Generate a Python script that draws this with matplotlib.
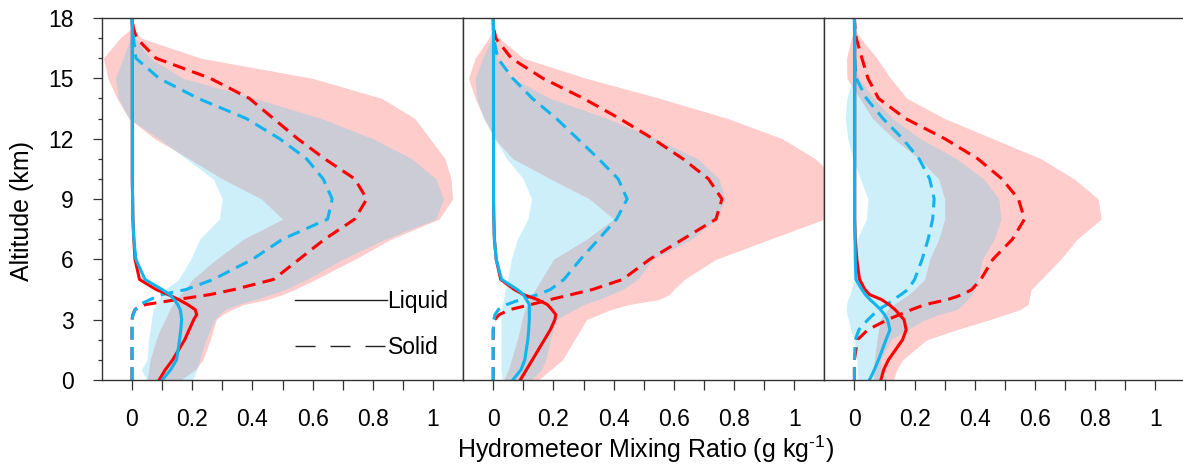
import numpy as np
import matplotlib.pyplot as plt
from matplotlib.lines import Line2D

plt.rcParams['font.family'] = ['Liberation Sans', 'DejaVu Sans']
plt.rcParams['mathtext.fontset'] = 'custom'
plt.rcParams['mathtext.rm'] = 'Liberation Sans'

# altitude levels (km)
z = [0, 0.5, 1, 2, 2.5, 3, 3.25, 3.5, 3.75, 4, 4.25, 4.5, 5, 6, 7, 8, 9,
     10, 11, 12, 13, 14, 15, 16, 17, 17.5, 18]

# ---- panel 1 ----
p1_liq_red = [0.09, 0.11, 0.135, 0.175, 0.19, 0.205, 0.215, 0.21, 0.185, 0.155, 0.12, 0.08, 0.025,
              0.01, 0.006, 0.003, 0.002, 0.001, 0.001, 0.001, 0.001, 0.001, 0.001, 0.001, 0.001, 0.001, 0.0]
p1_liq_blue = [0.1, 0.128, 0.148, 0.158, 0.162, 0.165, 0.163, 0.16, 0.152, 0.14, 0.125, 0.1, 0.043,
               0.013, 0.006, 0.003, 0.002, 0.001, 0.001, 0.001, 0.001, 0.001, 0.001, 0.001, 0.001, 0.001, 0.0]
p1_sol_red = [0, 0, 0, 0, 0, 0, 0.003, 0.01, 0.045, 0.15, 0.26, 0.34, 0.47,
              0.555, 0.64, 0.74, 0.78, 0.74, 0.64, 0.55, 0.47, 0.39, 0.26, 0.08, 0.015, 0.005, 0]
p1_sol_blue = [0, 0, 0, 0, 0, 0, 0.004, 0.01, 0.025, 0.06, 0.10, 0.18, 0.27,
               0.40, 0.50, 0.65, 0.665, 0.635, 0.58, 0.49, 0.38, 0.22, 0.09, 0.013, 0.005, 0.002, 0]
p1_red_lo = [0.05, 0.055, 0.06, 0.08, 0.093, 0.11, 0.117, 0.125, 0.135, 0.145, 0.16, 0.175, 0.20,
             0.28, 0.37, 0.50, 0.43, 0.30, 0.19, 0.075, -0.01, -0.05, -0.08, -0.095, -0.04, 0, 0]
p1_red_hi = [0.16, 0.21, 0.235, 0.26, 0.27, 0.28, 0.30, 0.33, 0.37, 0.45, 0.50, 0.54, 0.61,
             0.74, 0.86, 1.02, 1.065, 1.06, 1.04, 0.99, 0.94, 0.83, 0.60, 0.23, 0.03, 0, 0]
p1_blue_lo = [0.05, 0.03, 0.05, 0.055, 0.06, 0.065, 0.067, 0.07, 0.08, 0.09, 0.10, 0.11, 0.155,
              0.195, 0.225, 0.29, 0.30, 0.27, 0.18, 0.09, -0.01, -0.045, -0.055, -0.03, -0.005, 0, 0]
p1_blue_hi = [0.2, 0.215, 0.225, 0.245, 0.26, 0.275, 0.29, 0.31, 0.35, 0.41, 0.46, 0.51, 0.58,
              0.70, 0.84, 1.01, 1.035, 1.01, 0.93, 0.80, 0.63, 0.41, 0.17, 0.06, 0.01, 0, 0]

# ---- panel 2 ----
p2_liq_red = [0.09, 0.11, 0.13, 0.17, 0.19, 0.205, 0.208, 0.195, 0.18, 0.147, 0.10, 0.07, 0.025,
              0.01, 0.004, 0.002, 0.001, 0.001, 0.001, 0.001, 0.001, 0.001, 0.001, 0.001, 0.001, 0.001, 0.0]
p2_liq_blue = [0.065, 0.092, 0.105, 0.115, 0.118, 0.12, 0.12, 0.12, 0.12, 0.11, 0.10, 0.08, 0.028,
               0.01, 0.004, 0.002, 0.001, 0.001, 0.001, 0.001, 0.001, 0.001, 0.001, 0.001, 0.001, 0.001, 0.0]
p2_sol_red = [0, 0, 0, 0, 0, 0.005, 0.02, 0.055, 0.125, 0.19, 0.26, 0.33, 0.43,
              0.52, 0.63, 0.74, 0.76, 0.715, 0.63, 0.53, 0.42, 0.30, 0.165, 0.06, 0.008, 0.002, 0]
p2_sol_blue = [0, 0, 0, 0, 0, 0.002, 0.006, 0.017, 0.045, 0.09, 0.15, 0.19, 0.235,
               0.29, 0.35, 0.41, 0.445, 0.415, 0.35, 0.28, 0.21, 0.13, 0.065, 0.015, 0.002, 0, 0]
p2_red_lo = [0.035, 0.05, 0.06, 0.08, 0.088, 0.095, 0.1, 0.105, 0.112, 0.12, 0.13, 0.14, 0.16,
             0.20, 0.31, 0.40, 0.32, 0.19, 0.065, 0.005, -0.03, -0.06, -0.082, -0.06, -0.015, 0, 0]
p2_red_hi = [0.15, 0.19, 0.23, 0.27, 0.29, 0.31, 0.35, 0.39, 0.45, 0.55, 0.585, 0.60, 0.635,
             0.74, 0.92, 1.1, 1.16, 1.14, 1.07, 0.96, 0.78, 0.555, 0.31, 0.10, 0.02, 0, 0]
p2_blue_lo = [0.03, 0.026, 0.026, 0.026, 0.026, 0.026, 0.026, 0.028, 0.03, 0.035, 0.037, 0.04, 0.048,
              0.06, 0.08, 0.115, 0.127, 0.10, 0.045, 0.005, -0.032, -0.055, -0.06, -0.035, -0.005, 0, 0]
p2_blue_hi = [0.125, 0.16, 0.175, 0.19, 0.20, 0.21, 0.24, 0.27, 0.30, 0.35, 0.39, 0.43, 0.48,
              0.53, 0.66, 0.74, 0.77, 0.75, 0.68, 0.54, 0.38, 0.19, 0.065, 0.012, 0.001, 0, 0]

# ---- panel 3 ----
p3_liq_red = [0.088, 0.097, 0.113, 0.16, 0.172, 0.165, 0.15, 0.135, 0.115, 0.09, 0.05, 0.035, 0.017,
              0.008, 0.003, 0.001, 0.001, 0.001, 0.001, 0.001, 0.001, 0.001, 0.001, 0.001, 0.001, 0.001, 0.0]
p3_liq_blue = [0.05, 0.066, 0.08, 0.105, 0.118, 0.11, 0.1, 0.087, 0.07, 0.052, 0.036, 0.025, 0.005,
               0.003, 0.002, 0.001, 0.001, 0.001, 0.001, 0.001, 0.001, 0.001, 0.001, 0.001, 0.001, 0.001, 0.0]
p3_sol_red = [0, 0, 0, 0.01, 0.045, 0.11, 0.15, 0.19, 0.235, 0.31, 0.36, 0.39, 0.42,
              0.46, 0.525, 0.565, 0.545, 0.49, 0.41, 0.30, 0.17, 0.08, 0.045, 0.025, 0.006, 0.002, 0]
p3_sol_blue = [0, 0, 0, 0.003, 0.015, 0.045, 0.062, 0.08, 0.108, 0.13, 0.155, 0.178, 0.2,
               0.225, 0.245, 0.26, 0.265, 0.25, 0.215, 0.16, 0.095, 0.04, 0.006, 0.001, 0, 0, 0]
p3_red_lo = [0.065, 0.061, 0.066, 0.075, 0.08, 0.087, 0.095, 0.11, 0.13, 0.155, 0.18, 0.20, 0.233,
             0.25, 0.28, 0.30, 0.30, 0.28, 0.215, 0.13, 0.06, 0.018, -0.025, -0.026, -0.01, 0, 0]
p3_red_hi = [0.13, 0.14, 0.16, 0.24, 0.34, 0.45, 0.50, 0.55, 0.577, 0.58, 0.584, 0.587, 0.62,
             0.685, 0.74, 0.82, 0.81, 0.73, 0.62, 0.46, 0.30, 0.175, 0.12, 0.075, 0.02, 0, 0]
p3_blue_lo = [0.011, 0.01, 0.008, 0.0, -0.012, -0.02, -0.025, -0.027, -0.026, -0.022, -0.015, -0.01, 0.0,
              0.003, 0.008, 0.04, 0.045, 0.02, -0.005, -0.022, -0.03, -0.025, -0.005, 0, 0, 0, 0]
p3_blue_hi = [0.11, 0.09, 0.088, 0.122, 0.175, 0.235, 0.28, 0.34, 0.36, 0.375, 0.39, 0.40, 0.41,
              0.425, 0.465, 0.487, 0.48, 0.43, 0.34, 0.22, 0.128, 0.064, 0.015, 0, 0, 0, 0]

panels = [
    (p1_liq_red, p1_liq_blue, p1_sol_red, p1_sol_blue, p1_red_lo, p1_red_hi, p1_blue_lo, p1_blue_hi),
    (p2_liq_red, p2_liq_blue, p2_sol_red, p2_sol_blue, p2_red_lo, p2_red_hi, p2_blue_lo, p2_blue_hi),
    (p3_liq_red, p3_liq_blue, p3_sol_red, p3_sol_blue, p3_red_lo, p3_red_hi, p3_blue_lo, p3_blue_hi),
]

red = '#ff0000'
blue = '#12b4ee'
dash = (4.2, 2.4)
W, H = 1183, 468

fig = plt.figure(figsize=(W / 100, H / 100), dpi=100)
axes = []
for i, (lr, lb, sr, sb, rlo, rhi, blo, bhi) in enumerate(panels):
    ax = fig.add_axes([(101.9 + i * 361.2) / W, 88 / H, 361.2 / W, 362 / H])
    ax.fill_betweenx(z, rlo, rhi, color=red, alpha=0.2, lw=0)
    ax.fill_betweenx(z, blo, bhi, color='#58cdf1', alpha=0.3, lw=0)
    ax.plot(sr, z, color=red, lw=2.2, dashes=dash)
    ax.plot(sb, z, color=blue, lw=2.2, dashes=dash)
    ax.plot(lr, z, color=red, lw=2.2)
    ax.plot(lb, z, color=blue, lw=2.2)

    ax.set_xlim(-0.1, 1.1)
    ax.set_ylim(0, 18)
    xt = np.arange(0, 11) / 10
    ax.set_xticks(xt)
    ax.set_xticklabels(['0', '', '0.2', '', '0.4', '', '0.6', '', '0.8', '', '1'])
    ax.tick_params(axis='x', direction='out', length=7, width=0.9, color='#333333',
                   labelsize=16.5, pad=13)
    for s in ax.spines.values():
        s.set_color('#333333')
        s.set_linewidth(1.0)
    if i == 0:
        ax.set_yticks(np.arange(0, 19, 3))
        ax.set_yticks(np.arange(0, 19, 1), minor=True)
        ax.tick_params(axis='y', which='major', direction='out', length=6.5, width=0.9,
                       color='#333333', labelsize=16.5, pad=13.5)
        ax.tick_params(axis='y', which='minor', direction='out', length=3, width=0.9,
                       color='#333333')
        ax.set_ylabel('Altitude (km)', fontsize=18)
        ax.yaxis.set_label_coords(-0.188, 0.4655)
    else:
        ax.set_yticks([])
    axes.append(ax)

handles = [Line2D([], [], color='#222222', lw=1.0),
           Line2D([], [], color='#222222', lw=1.0, dashes=(14.4, 10.8))]
axes[0].legend(handles, ['Liquid', 'Solid'], loc='center left',
               bbox_to_anchor=(0.535, 0.153), frameon=False, fontsize=16.5,
               handlelength=4.0, handletextpad=0.03, labelspacing=1.01,
               borderpad=0, borderaxespad=0)

fig.text(645 / W, (H - 458) / H, r'Hydrometeor Mixing Ratio (g kg$^{\text{-}1}$)',
         fontsize=18, ha='center', va='baseline')

fig.savefig('out.png', dpi=100)
